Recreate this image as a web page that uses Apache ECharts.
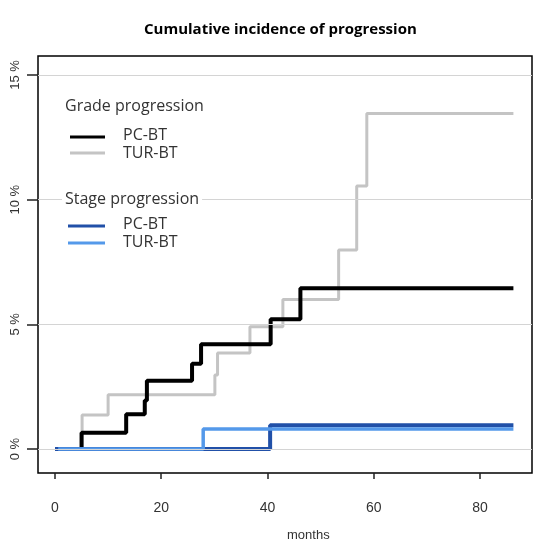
<!DOCTYPE html>
<html>
<head>
<meta charset="utf-8">
<style>
  html, body { margin: 0; padding: 0; background: #fff; }
  #main { width: 541px; height: 547px; }
</style>
<script src="https://cdn.jsdelivr.net/npm/echarts@6/dist/echarts.min.js"></script>
</head>
<body>
<div id="main"></div>
<script>
// step points: [month, cumulative incidence %]
var gradePcbt = [[0, 0], [5.0, 0.65], [13.4, 1.4], [16.9, 1.95], [17.3, 2.74], [25.8, 3.42], [27.5, 4.2], [40.6, 5.2], [46.2, 6.45], [86.3, 6.45]];
var gradeTurbt = [[0, 0], [5.1, 1.37], [10.0, 2.18], [30.1, 2.97], [30.6, 3.85], [36.7, 4.9], [42.9, 6.0], [53.4, 7.98], [56.8, 10.55], [58.7, 13.45], [86.3, 13.45]];
var stagePcbt = [[0, 0], [40.5, 0.95], [86.3, 0.95]];
var stageTurbt = [[0.6, 0], [27.9, 0.8], [86.3, 0.8]];

var xTicks = [0, 20, 40, 60, 80];
var yTicks = [0, 5, 10, 15];

var chartDom = document.getElementById('main');
var myChart = echarts.init(chartDom);
var option;

function stepLine(name, data, color, width) {
  return {
    name: name,
    type: 'line',
    step: 'end',
    data: data,
    symbol: 'none',
    lineStyle: { color: color, width: width },
    silent: true
  };
}

var gridLines = stepLine('grid', [], '#000', 0);
gridLines.markLine = {
  silent: true,
  symbol: 'none',
  label: { show: false },
  lineStyle: { color: '#d4d4d4', width: 1, type: 'solid' },
  data: yTicks.map(function (v) { return { yAxis: v }; })
};

var legendFont = '16px "Open Sans"';

option = {
  animation: false,
  title: {
    text: 'Cumulative incidence of progression',
    left: 139,
    top: 17,
    textStyle: { fontFamily: 'Open Sans', fontSize: 15, fontWeight: 'bold', color: '#000' }
  },
  grid: {
    left: 38, right: 9, top: 56, bottom: 74,
    show: true, borderColor: '#000', borderWidth: 1.5,
    outerBoundsMode: 'none'
  },
  xAxis: {
    type: 'value',
    min: -3.2,
    max: 89.8,
    axisLine: { show: false, onZero: false },
    splitLine: { show: false },
    axisTick: { show: true, customValues: xTicks, length: 6, lineStyle: { color: '#222', width: 1.5 } },
    axisLabel: {
      customValues: xTicks, margin: 28,
      fontFamily: 'Liberation Sans', fontSize: 14, color: '#333'
    }
  },
  yAxis: {
    type: 'value',
    min: -0.96,
    max: 15.76,
    axisLine: { show: false, onZero: false },
    splitLine: { show: false },
    axisTick: { show: true, customValues: yTicks, length: 11, lineStyle: { color: '#222', width: 1.5 } },
    axisLabel: {
      customValues: yTicks, rotate: 90, margin: 16,
      formatter: function (v) { return v + ' %'; },
      fontFamily: 'Liberation Sans', fontSize: 13, color: '#333'
    }
  },
  graphic: [
    { type: 'text', left: 65, top: 98, z: 10, style: { text: 'Grade progression', font: legendFont, fill: '#333', backgroundColor: '#fff' } },
    { type: 'line', z: 10, shape: { x1: 70, y1: 137, x2: 105, y2: 137 }, style: { stroke: '#000', lineWidth: 3 } },
    { type: 'text', left: 123, top: 127, z: 10, style: { text: 'PC-BT', font: legendFont, fill: '#333' } },
    { type: 'line', z: 10, shape: { x1: 70, y1: 153, x2: 105, y2: 153 }, style: { stroke: '#c4c4c4', lineWidth: 3 } },
    { type: 'text', left: 123, top: 145, z: 10, style: { text: 'TUR-BT', font: legendFont, fill: '#333' } },
    { type: 'text', left: 62, top: 191, z: 10, style: { text: 'Stage progression', font: legendFont, fill: '#333', backgroundColor: '#fff', padding: [0, 3] } },
    { type: 'line', z: 10, shape: { x1: 68, y1: 226, x2: 105, y2: 226 }, style: { stroke: '#2150a8', lineWidth: 3 } },
    { type: 'text', left: 123, top: 216, z: 10, style: { text: 'PC-BT', font: legendFont, fill: '#333' } },
    { type: 'line', z: 10, shape: { x1: 68, y1: 243, x2: 105, y2: 243 }, style: { stroke: '#5499ea', lineWidth: 3 } },
    { type: 'text', left: 123, top: 234, z: 10, style: { text: 'TUR-BT', font: legendFont, fill: '#333' } },
    { type: 'text', left: 287, top: 529, style: { text: 'months', font: '13px "Liberation Sans"', fill: '#333' } }
  ],
  series: [
    gridLines,
    stepLine('Grade progression TUR-BT', gradeTurbt, '#c4c4c4', 3),
    stepLine('Grade progression PC-BT', gradePcbt, '#000', 4),
    stepLine('Stage progression PC-BT', stagePcbt, '#2150a8', 4),
    stepLine('Stage progression TUR-BT', stageTurbt, '#5499ea', 3.5)
  ]
};

option && myChart.setOption(option);
</script>
</body>
</html>
